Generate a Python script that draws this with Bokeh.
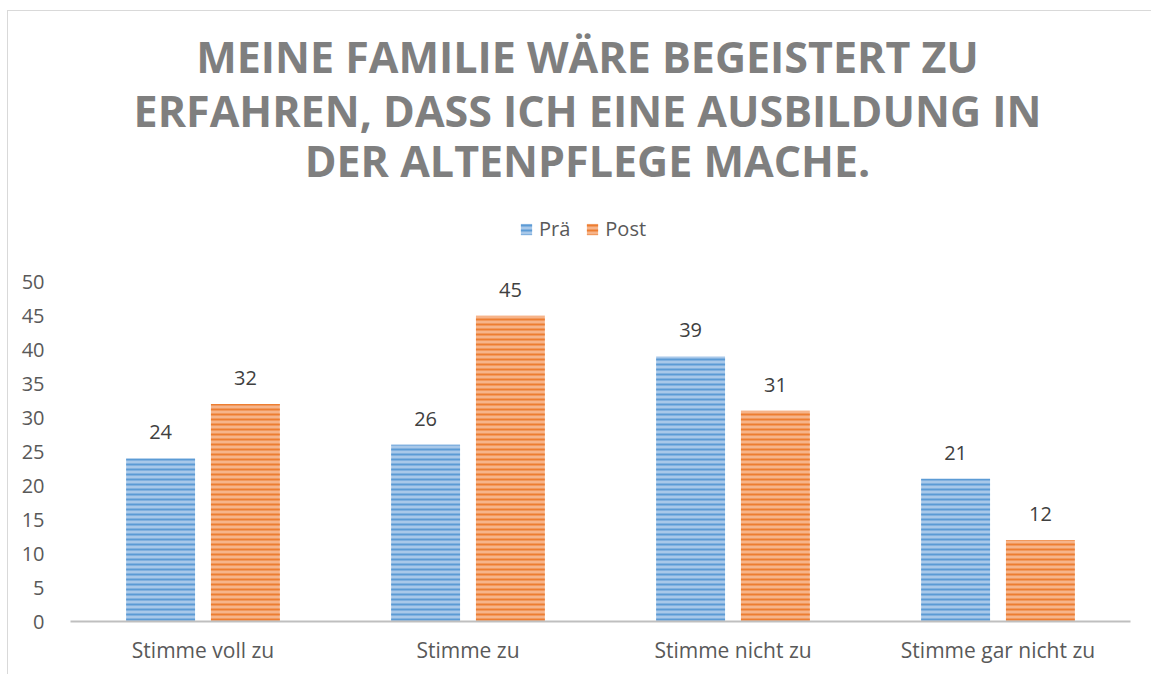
from bokeh.plotting import figure
from bokeh.models import ColumnDataSource, FactorRange, Range1d, Legend, LegendItem, FixedTicker
from bokeh.transform import dodge
from bokeh.embed import file_html
from bokeh.resources import INLINE
from bokeh.core.properties import value

categories = ["Stimme voll zu", "Stimme zu", "Stimme nicht zu", "Stimme gar nicht zu"]
pre = [24, 26, 39, 21]
post = [32, 45, 31, 12]
series_names = ["Prä", "Post"]
title_lines = ["MEINE FAMILIE WÄRE BEGEISTERT ZU",
               "ERFAHREN, DASS ICH EINE AUSBILDUNG IN",
               "DER ALTENPFLEGE MACHE."]
y_ticks = list(range(0, 55, 5))

Y_TOP = 88  # headroom above the value axis for title and legend

src = ColumnDataSource(dict(cat=categories, pre=pre, post=post,
                            pre_lbl=[str(v) for v in pre], post_lbl=[str(v) for v in post]))

FONT = "Open Sans"

p = figure(x_range=FactorRange(*categories), y_range=Range1d(0, Y_TOP),
           width=1144, height=664, output_backend="svg", toolbar_location=None,
           min_border_left=62, min_border_right=22, min_border_bottom=54, min_border_top=12)

p.background_fill_color = "white"
p.border_fill_color = "white"
p.outline_line_color = None
p.xgrid.grid_line_color = None
p.ygrid.grid_line_color = None

BLUE_FILL, BLUE_LINE = "#a8c8e9", "#5b9bd5"
ORANGE_FILL, ORANGE_LINE = "#f6b48a", "#ed7d31"

r1 = p.vbar(x=dodge("cat", -0.16, range=p.x_range), top="pre", width=0.26, source=src,
            fill_color=BLUE_FILL, line_color=None, hatch_pattern="horizontal_line",
            hatch_color=BLUE_LINE, hatch_scale=5, hatch_weight=2)
r2 = p.vbar(x=dodge("cat", 0.16, range=p.x_range), top="post", width=0.26, source=src,
            fill_color=ORANGE_FILL, line_color=None, hatch_pattern="horizontal_line",
            hatch_color=ORANGE_LINE, hatch_scale=5, hatch_weight=2)

p.text(x=dodge("cat", -0.16, range=p.x_range), y="pre", text="pre_lbl", source=src,
       text_font=value(FONT), text_font_size="20px", text_color="#404040",
       text_align="center", text_baseline="bottom", y_offset=-19)
p.text(x=dodge("cat", 0.16, range=p.x_range), y="post", text="post_lbl", source=src,
       text_font=value(FONT), text_font_size="20px", text_color="#404040",
       text_align="center", text_baseline="bottom", y_offset=-19)

# chart title (three centred lines at the top of the chart area)
title_src = ColumnDataSource(dict(x=[categories[1]] * 3, y=[Y_TOP] * 3, text=title_lines,
                                  yoff=[33, 87, 137]))
p.text(x=dodge("x", 0.5, range=p.x_range), y="y", text="text", source=title_src,
       y_offset="yoff", x_offset=-13,
       text_font=value(FONT), text_font_style="bold", text_font_size="43px",
       text_color="#7f7f7f", text_align="center", text_baseline="middle")

# axes
p.yaxis.ticker = FixedTicker(ticks=y_ticks)
p.yaxis.axis_line_color = None
p.yaxis.major_tick_line_color = None
p.yaxis.minor_tick_line_color = None
p.yaxis.major_label_standoff = 20
p.yaxis.major_label_text_font = FONT
p.yaxis.major_label_text_font_size = "20px"
p.yaxis.major_label_text_color = "#595959"

p.xaxis.axis_line_color = "#bfbfbf"
p.xaxis.axis_line_width = 2
p.xaxis.major_tick_line_color = None
p.xaxis.minor_tick_line_color = None
p.xaxis.major_label_standoff = 8
p.xaxis.major_label_text_font = FONT
p.xaxis.major_label_text_font_size = "21px"
p.xaxis.major_label_text_color = "#595959"

legend = Legend(items=[LegendItem(label=series_names[0], renderers=[r1]),
                       LegendItem(label=series_names[1], renderers=[r2])],
                orientation="horizontal", location=(449, 379),
                label_text_font=FONT, label_text_font_size="20px", label_text_color="#595959",
                glyph_width=14, glyph_height=14, spacing=15, label_standoff=6,
                border_line_color=None, background_fill_alpha=0, padding=0, margin=0,
                label_height=20)
p.add_layout(legend, "center")

p.styles = {"border-left": "1.5px solid #d9d9d9", "border-top": "1.5px solid #d9d9d9",
            "margin-left": "7px", "margin-top": "10px"}

open("out.html", "w").write(file_html(p, INLINE))
